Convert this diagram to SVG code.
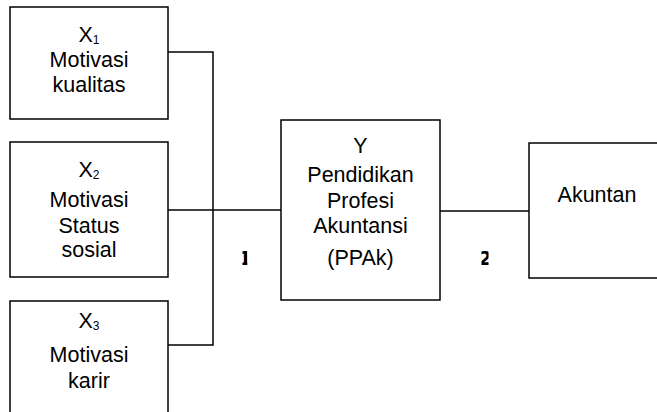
<svg xmlns="http://www.w3.org/2000/svg" width="657" height="412" viewBox="0 0 657 412">
<style>
.box{fill:#fff;stroke:#000;stroke-width:1.5}
.ln{fill:none;stroke:#000;stroke-width:1.5}
text{font-family:"Liberation Sans","Arial",sans-serif;font-size:21.5px;fill:#000;text-anchor:middle}
.sub{font-size:12px}
.num{font-family:"DejaVu Sans",sans-serif;font-size:19px;font-weight:bold}
</style>
<defs>
<clipPath id="c1"><rect x="242.5" y="240" width="4.8" height="30"/></clipPath>
<clipPath id="c2"><rect x="481.5" y="240" width="7" height="30"/></clipPath>
</defs>
<g id="connectors">
<polyline class="ln" points="168,52 213,52 213,345 168,345"/>
<line class="ln" x1="168" y1="210" x2="281" y2="210"/>
<line class="ln" x1="440" y1="211" x2="529" y2="211"/>
</g>
<g id="x1">
<rect class="box" x="10" y="7" width="158" height="112"/>
<text x="89" y="42">X<tspan class="sub" dy="2">1</tspan></text>
<text x="89" y="67">Motivasi</text>
<text x="89" y="92">kualitas</text>
</g>
<g id="x2">
<rect class="box" x="10" y="142" width="158" height="135"/>
<text x="89" y="177">X<tspan class="sub" dy="2">2</tspan></text>
<text x="89" y="207">Motivasi</text>
<text x="89" y="233">Status</text>
<text x="89" y="257">sosial</text>
</g>
<g id="x3">
<rect class="box" x="10" y="301" width="158" height="130"/>
<text x="89" y="328">X<tspan class="sub" dy="2">3</tspan></text>
<text x="89" y="362">Motivasi</text>
<text x="89" y="388">karir</text>
</g>
<g id="y">
<rect class="box" x="281" y="120" width="159" height="180"/>
<text x="360.5" y="153">Y</text>
<text x="360.5" y="182">Pendidikan</text>
<text x="360.5" y="208">Profesi</text>
<text x="360.5" y="233">Akuntansi</text>
<text x="360.5" y="265">(PPAk)</text>
</g>
<g id="akuntan">
<rect class="box" x="529" y="143" width="150" height="135"/>
<text x="597" y="202">Akuntan</text>
</g>
<g id="labels">
<text class="num" x="245" y="265" clip-path="url(#c1)">1</text>
<text class="num" x="485" y="265" clip-path="url(#c2)">2</text>
</g>
</svg>
